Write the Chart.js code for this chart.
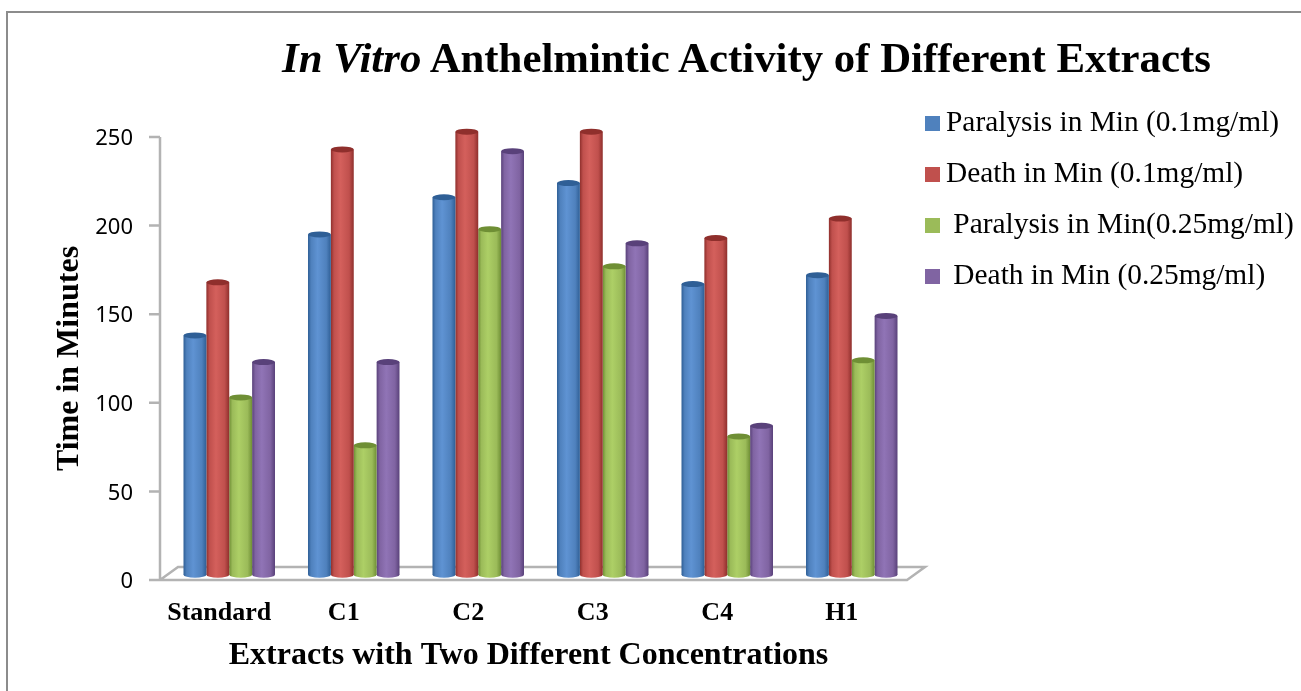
<!DOCTYPE html>
<html>
<head>
<meta charset="utf-8">
<title>In Vitro Anthelmintic Activity</title>
<script src="https://cdn.jsdelivr.net/npm/chart.js@4"></script>
<style>
    html, body { margin: 0; padding: 0; background: #fff; overflow: hidden; }
    #wrap { position: relative; width: 1301px; height: 691px; }
    #frame { position: absolute; left: 6px; top: 11px; right: -4px; bottom: -4px; border: 2px solid #8c8c8c; }
    #chart { position: absolute; left: 0; top: 0; }
    #heading {
        position: absolute; left: 0; top: 33px; width: 1301px; margin: 0; padding-left: 192px; box-sizing: border-box;
        text-align: center; font: bold 42.8px "Liberation Serif", serif; line-height: 50px; color: #000; white-space: nowrap;
    }
    #legend { position: absolute; left: 925px; top: 96px; font: 29.4px "Liberation Serif", serif; color: #000; white-space: pre; }
    #legend div { height: 51px; line-height: 51px; }
    #legend i { display: inline-block; width: 15px; height: 15px; margin-right: 6px; vertical-align: 0; }
</style>
</head>
<body>
<div id="wrap">
    <div id="frame"></div>
    <canvas id="chart" width="1301" height="691"></canvas>
    <h1 id="heading"><em>In Vitro</em> Anthelmintic Activity of Different Extracts</h1>
    <div id="legend"></div>
</div>
<script>
// Chart data
const extracts = ['Standard', 'C1', 'C2', 'C3', 'C4', 'H1'];
const paralysisLow = [138, 195, 216, 224, 167, 172];
const deathLow = [168, 243, 253, 253, 193, 204];
const paralysisHigh = [103, 76, 198, 177, 81, 124];
const deathHigh = [123, 123, 242, 190, 87, 149];
const yTicks = [0, 50, 100, 150, 200, 250];

const seriesNames = ['Paralysis in Min (0.1mg/ml)', 'Death in Min (0.1mg/ml)', ' Paralysis in Min(0.25mg/ml)', ' Death in Min (0.25mg/ml)'];
const seriesColors = ['#4f81bd', '#c0504d', '#9bbb59', '#8064a2'];
const seriesDark = ['#2f5f96', '#8f2f2c', '#6f8f35', '#59417a'];
const seriesLight = ['#5f93d3', '#d4605c', '#adcf66', '#9074b6'];

const barShare = 0.735;
const barBase = 3;

// Cylinder look: dark at the edges, light just left of the middle
function barFill(ctx) {
    const chart = ctx.chart;
    const i = ctx.datasetIndex;
    if (!chart.chartArea || ctx.dataIndex === undefined) return seriesColors[i];
    const xs = chart.scales.x;
    const w = (xs.width / extracts.length) * barShare / 4;
    const left = xs.getPixelForValue(ctx.dataIndex) + (i - 2) * w;
    const g = chart.ctx.createLinearGradient(left, 0, left + w, 0);
    g.addColorStop(0, seriesDark[i]);
    g.addColorStop(0.14, seriesColors[i]);
    g.addColorStop(0.42, seriesLight[i]);
    g.addColorStop(0.8, seriesColors[i]);
    g.addColorStop(1, seriesDark[i]);
    return g;
}

// Axis line, tick marks and the slanted floor of the 3D look
const floorPlugin = {
    id: 'floor',
    beforeDatasetsDraw(chart) {
        const c = chart.ctx;
        const y = chart.scales.y;
        const zero = y.getPixelForValue(0);
        const axisX = chart.chartArea.left - 7;
        const right = chart.chartArea.right - 7;
        c.save();
        c.strokeStyle = '#b3b3b3';
        c.lineWidth = 2.5;
        c.beginPath();
        c.moveTo(axisX, y.getPixelForValue(250));
        c.lineTo(axisX, zero);
        yTicks.forEach(t => {
            const p = y.getPixelForValue(t);
            c.moveTo(axisX - 11, p);
            c.lineTo(axisX, p);
        });
        // floor outline
        c.moveTo(axisX, zero);
        c.lineTo(axisX + 18, zero - 13);
        c.lineTo(right + 18, zero - 13);
        c.lineTo(right, zero);
        c.closePath();
        c.stroke();
        c.restore();
    }
};

// Round ends of the cylinders, placed from the bar elements
const capPlugin = {
    id: 'caps',
    afterDatasetDraw(chart, args) {
        const c = chart.ctx;
        const i = args.index;
        chart.getDatasetMeta(i).data.forEach(bar => {
            const p = bar.getProps(['x', 'y', 'base', 'width']);
            c.fillStyle = bar.options.backgroundColor;
            c.beginPath();
            c.ellipse(p.x, p.base, p.width / 2, 3, 0, 0, Math.PI * 2);
            c.fill();
            c.fillStyle = seriesDark[i];
            c.beginPath();
            c.ellipse(p.x, p.y, p.width / 2, 3, 0, 0, Math.PI * 2);
            c.fill();
        });
    }
};

const chart = new Chart(document.getElementById('chart'), {
    type: 'bar',
    data: {
        labels: extracts,
        datasets: [paralysisLow, deathLow, paralysisHigh, deathHigh].map((values, i) => ({
            label: seriesNames[i],
            data: values,
            base: barBase,
            clip: false,
            backgroundColor: barFill,
            barPercentage: 1,
            categoryPercentage: barShare
        }))
    },
    options: {
        responsive: false,
        animation: false,
        layout: { padding: { top: 137, right: 387, left: 0, bottom: 0 } },
        plugins: { legend: { display: false }, tooltip: { enabled: false } },
        scales: {
            x: {
                grid: { display: false, drawTicks: false },
                border: { display: false },
                afterFit(scale) { scale.height = 111; },
                ticks: {
                    color: '#000',
                    padding: 18,
                    labelOffset: -10,
                    maxRotation: 0,
                    font: { family: 'Liberation Serif', size: 26, weight: 'bold' }
                },
                title: {
                    display: true,
                    // trailing spaces pull the centred title left of the plot centre
                    text: 'Extracts with Two Different Concentrations   ',
                    color: '#000',
                    padding: { top: 0, bottom: 16 },
                    font: { family: 'Liberation Serif', size: 32, weight: 'bold' }
                }
            },
            y: {
                min: 0,
                max: 250,
                grid: { display: false, drawTicks: false },
                border: { display: false },
                afterFit(scale) { scale.width = 167; },
                afterBuildTicks(scale) { scale.ticks = yTicks.map(v => ({ value: v })); },
                ticks: {
                    color: '#000',
                    padding: 34,
                    labelOffset: 2,
                    font: { family: 'Noto Sans', size: 22 }
                },
                title: {
                    display: true,
                    text: 'Time in Minutes',
                    color: '#000',
                    padding: { top: 51, bottom: 0 },
                    font: { family: 'Liberation Serif', size: 32, weight: 'bold' }
                }
            }
        }
    },
    plugins: [floorPlugin, capPlugin]
});

// Legend is written as HTML because the swatch/text gap is tighter than the built-in one
document.getElementById('legend').innerHTML = chart.data.datasets.map((d, i) =>
    `<div><i style="background:${seriesColors[i]}"></i>${d.label}</div>`
).join('');
</script>
</body>
</html>
